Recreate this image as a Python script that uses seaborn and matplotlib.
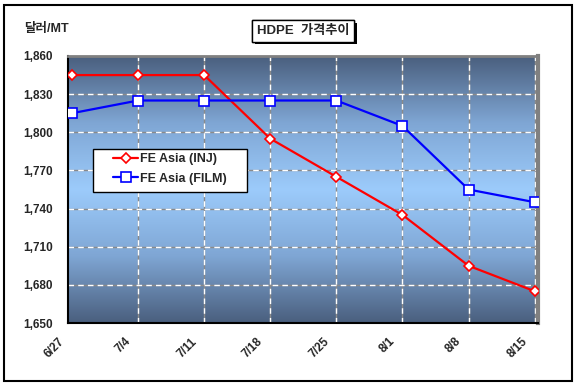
import numpy as np
import pandas as pd
import matplotlib
matplotlib.use("Agg")
import matplotlib.pyplot as plt
import matplotlib.patheffects as pe
import matplotlib.transforms as mtransforms
from matplotlib.colors import LinearSegmentedColormap
from matplotlib.patches import Rectangle
from matplotlib.ticker import FuncFormatter
import seaborn as sns

dates = ['6/27', '7/4', '7/11', '7/18', '7/25', '8/1', '8/8', '8/15']
inj = [1845, 1845, 1845, 1795, 1765, 1735, 1695, 1675]
film = [1815, 1825, 1825, 1825, 1825, 1805, 1755, 1745]
y_ticks = [1650, 1680, 1710, 1740, 1770, 1800, 1830, 1860]

sns.set_style("white")
plt.rcParams['font.family'] = ['Liberation Sans', 'Noto Sans CJK KR', 'DejaVu Sans']
plt.rcParams['font.weight'] = 'bold'

fig = plt.figure(figsize=(5.77, 3.86), dpi=100)
ax = fig.add_axes([68/577, 1-323/386, 470/577, 267/386])

df = pd.DataFrame({'x': range(len(dates)), 'INJ': inj, 'FILM': film})

# background gradient dark - light - dark
cmap = LinearSegmentedColormap.from_list('bg', ['#4a5f7e', '#7fa6d4', '#9ccbfb',
                                                '#7fa6d4', '#4a5f7e'])
grad = np.linspace(0, 1, 256).reshape(-1, 1)
xlim = (-0.06, 7.05)
ylim = (1650, 1860)
ax.imshow(grad, cmap=cmap, aspect='auto', extent=(xlim[0], xlim[1], ylim[0], ylim[1]),
          zorder=0, interpolation='bicubic')

for yv in y_ticks[1:-1]:
    ax.axhline(yv, color='#8a8a8a', lw=1, zorder=1)
    ax.axhline(yv, color='white', lw=1, ls=(0, (4, 3)), zorder=1.1)
for xv in range(1, len(dates)):
    ax.axvline(xv, color='#8a8a8a', lw=1, zorder=1)
    ax.axvline(xv, color='white', lw=1, ls=(0, (4, 3)), zorder=1.1)

sns.lineplot(data=df, x='x', y='INJ', ax=ax, color='red', lw=1.6, marker='D',
             markersize=5.5, markerfacecolor='white', markeredgecolor='red',
             markeredgewidth=1.2, label='FE Asia (INJ)', zorder=3)
sns.lineplot(data=df, x='x', y='FILM', ax=ax, color='blue', lw=1.6, marker='s',
             markersize=6.5, markerfacecolor='white', markeredgecolor='blue',
             markeredgewidth=1.2, label='FE Asia (FILM)', zorder=3)

ax.set_xlim(*xlim)
ax.set_ylim(*ylim)
ax.set_yticks(y_ticks)
ax.yaxis.set_major_formatter(FuncFormatter(lambda v, p: f"{int(v):,}"))
ax.set_xticks(range(len(dates)))
ax.set_xticklabels(dates, rotation=45, ha='right', va='top')
ax.tick_params(axis='both', length=0, labelsize=8.5)
ax.tick_params(axis='y', pad=11)
ax.tick_params(axis='x', pad=9)
shift = mtransforms.ScaledTranslation(-5/100, 0, fig.dpi_scale_trans)
for lab in ax.get_xticklabels():
    lab.set_transform(lab.get_transform() + shift)
ax.set_xlabel('')
ax.set_ylabel('')

for s in ['left', 'bottom']:
    ax.spines[s].set_color('black')
    ax.spines[s].set_linewidth(1.5)
ax.spines['top'].set_color('#808080')
ax.spines['top'].set_linewidth(2)
ax.spines['right'].set_color('#808080')
ax.spines['right'].set_linewidth(3)

# legend box drawn separately to match the wide padding
ax.add_patch(Rectangle((93/577, 1-192/386), 154/577, 43/386, transform=fig.transFigure,
                       fc='white', ec='black', lw=1, zorder=4, clip_on=False))
leg = ax.legend(loc='upper left', bbox_to_anchor=(113/577, 1-153/386),
                bbox_transform=fig.transFigure, borderaxespad=0, borderpad=0,
                frameon=False, fontsize=9, handlelength=2.0,
                handletextpad=0.2, labelspacing=0.6)
leg.set_zorder(5)

t = fig.text(303/577, 1-31/386, 'HDPE  가격추이', ha='center', va='center', fontsize=9.5,
             fontweight='bold',
             bbox=dict(boxstyle='square,pad=0.35', fc='white', ec='black', lw=1))
t.get_bbox_patch().set_path_effects([pe.withSimplePatchShadow(offset=(2, -2),
                                     shadow_rgbFace='black', alpha=1), pe.Normal()])

fig.text(24/577, 1-29/386, '달러/MT', ha='left', va='center', fontsize=9, fontweight='bold')

fig.patches.append(Rectangle((4/577, 5/386), 568/577, 376/386, transform=fig.transFigure,
                             fill=False, ec='black', lw=1.5))

fig.savefig('out.png', dpi=100)
